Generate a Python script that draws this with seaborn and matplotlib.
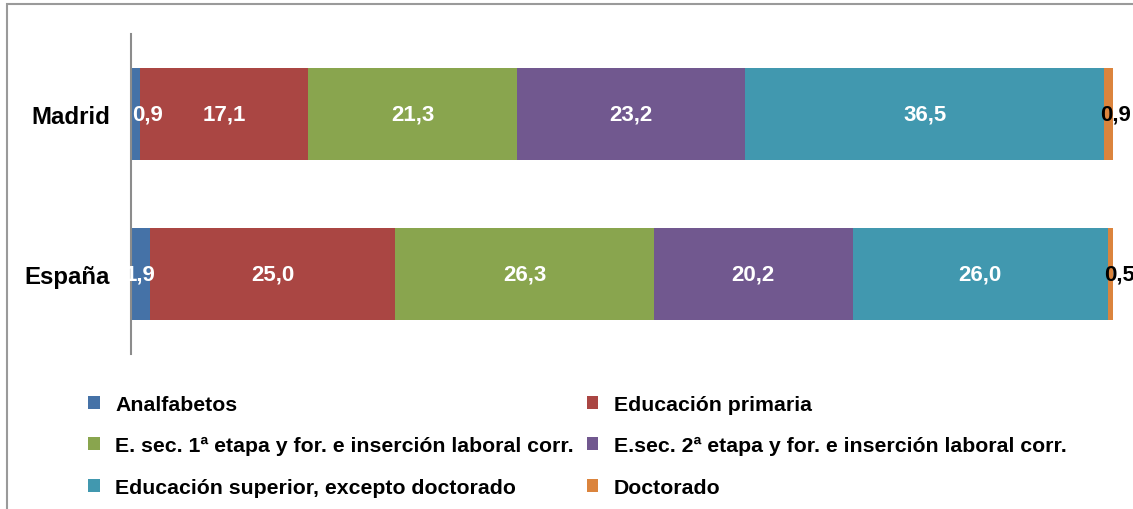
import matplotlib
matplotlib.use("Agg")
import matplotlib.pyplot as plt
import seaborn as sns
import numpy as np
import pandas as pd
from matplotlib.patches import Patch, Rectangle

categories = ["Madrid", "España"]
series_names = [
    "Analfabetos",
    "Educación primaria",
    "E. sec. 1ª etapa y for. e inserción laboral corr.",
    "E.sec. 2ª etapa y for. e inserción laboral corr.",
    "Educación superior, excepto doctorado",
    "Doctorado",
]
madrid = [0.9, 17.1, 21.3, 23.2, 36.5, 0.9]
espana = [1.9, 25.0, 26.3, 20.2, 26.0, 0.5]
colors = ["#4572A7", "#AA4643", "#89A54E", "#71588F", "#4198AF", "#DB843D"]

sns.set_theme(style="white")
plt.rcParams["font.family"] = ["Liberation Sans", "DejaVu Sans"]
plt.rcParams["text.color"] = "black"

fig = plt.figure(figsize=(11.33, 5.10), dpi=100)
ax = fig.add_axes([131 / 1133, 1 - 355 / 510, (1113 - 131) / 1133, 320 / 510])

vals = np.array([madrid, espana])
cum = np.cumsum(vals, axis=1)
starts = cum - vals

for i in range(len(series_names) - 1, -1, -1):
    df = pd.DataFrame({"cat": categories, "val": cum[:, i]})
    sns.barplot(data=df, x="val", y="cat", orient="h", color=colors[i],
                saturation=1, width=0.575, ax=ax, linewidth=0)

ax.set_xlim(0, 99.9)
ax.set_ylim(1.5, -0.5)

FS = 16
for r in range(len(categories)):
    for i in range(len(series_names)):
        v = vals[r, i]
        txt = f"{v:.1f}".replace(".", ",")
        if i == len(series_names) - 1:
            ax.annotate(txt, (starts[r, i], r), xytext=(-3, 0), textcoords="offset points",
                        ha="left", va="center", fontsize=FS, fontweight="bold", color="black",
                        annotation_clip=False)
        elif i == 0 and r == 0:
            ax.annotate(txt, (0, r), xytext=(1, 0), textcoords="offset points",
                        ha="left", va="center", fontsize=FS, fontweight="bold", color="white")
        else:
            ax.text(starts[r, i] + v / 2, r, txt, ha="center", va="center",
                    fontsize=FS, fontweight="bold", color="white")

ax.set_xlabel("")
ax.set_ylabel("")
ax.set_xticks([])
for s in ["top", "right", "bottom"]:
    ax.spines[s].set_visible(False)
ax.spines["left"].set_color("#8c8c8c")
ax.spines["left"].set_linewidth(1.5)
ax.tick_params(axis="y", length=0, pad=15)
for lab in ax.get_yticklabels():
    lab.set_fontsize(17.3)
    lab.set_fontweight("bold")
    lab.set_color("black")

order = [0, 2, 4, 1, 3, 5]
handles = [Patch(facecolor=colors[i], edgecolor="none", label=series_names[i]) for i in order]
leg = fig.legend(handles=handles, loc="upper left", bbox_to_anchor=(88 / 1133, 1 - 396 / 510),
                 ncol=2, frameon=False, prop={"size": 15.3, "weight": "bold"},
                 handlelength=0.55, handleheight=0.55, handletextpad=0.72,
                 labelspacing=1.05, columnspacing=0.62, borderpad=0, borderaxespad=0)
for t in leg.get_texts():
    t.set_color("black")

fig.patches.append(Rectangle((7 / 1133, -0.1), 1.2, 1.1 - 5 / 510, transform=fig.transFigure,
                             fill=False, edgecolor="#9a9a9a", linewidth=1.5))

fig.savefig("out.png", dpi=100)
